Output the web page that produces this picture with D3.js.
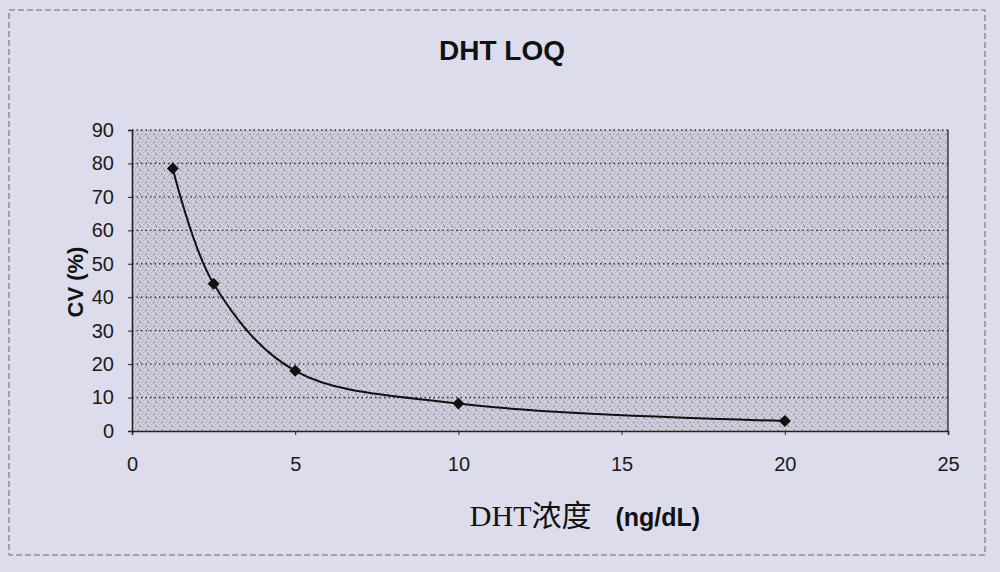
<!DOCTYPE html>
<html>
<head>
<meta charset="utf-8">
<script src="https://cdn.jsdelivr.net/npm/d3@7"></script>
<style>
  body { margin: 0; background: #dcdcec; }
  svg { display: block; }
</style>
</head>
<body>
<svg id="chart" width="1000" height="572"></svg>
<script>
// values
const concentrations = [1.25, 2.5, 5, 10, 20]
const cvValues = [78.5, 44, 18, 8.2, 3]
const xTicks = [0, 5, 10, 15, 20, 25]
const yTicks = [0, 10, 20, 30, 40, 50, 60, 70, 80, 90]

const svg = d3.select('#chart')
const margin = { left: 132, right: 52, top: 130, bottom: 141 }
const width = 1000 - margin.left - margin.right
const height = 572 - margin.top - margin.bottom

svg.append('rect')
  .attr('width', 1000).attr('height', 572)
  .attr('fill', '#dcdcec')

// stippled plot background (fixed dot layout in a small tile)
const stippleDots = [
  [0, 0, '#7e7e8c'], [3, 1, '#a0a0ae'], [5, 3, '#888896'], [1, 4, '#9a9aa8'],
  [4, 5, '#b0b0be'], [2, 2, '#b8b8c6'], [6, 0, '#a4a4b2'], [7, 6, '#8e8e9c'],
  [0, 7, '#acacba'], [6, 4, '#9c9caa'], [3, 6, '#a8a8b6']
]
const defs = svg.append('defs')
const pat = defs.append('pattern')
  .attr('id', 'stipple')
  .attr('width', 8).attr('height', 8)
  .attr('patternUnits', 'userSpaceOnUse')
pat.append('rect').attr('width', 8).attr('height', 8).attr('fill', '#d2d2e0')
pat.selectAll('rect.d')
  .data(stippleDots)
  .join('rect')
  .attr('class', 'd')
  .attr('x', d => d[0]).attr('y', d => d[1])
  .attr('width', 1.3).attr('height', 1.3)
  .attr('fill', d => d[2])

// dashed outer frame
svg.append('rect')
  .attr('x', 9).attr('y', 10)
  .attr('width', 976).attr('height', 545)
  .attr('fill', 'none')
  .attr('stroke', '#666')
  .attr('stroke-width', 1)
  .attr('stroke-dasharray', '6,3')

const x = d3.scaleLinear().domain([0, 25]).range([0, width])
const y = d3.scaleLinear().domain([0, 90]).range([height, 0])

const g = svg.append('g').attr('transform', `translate(${margin.left},${margin.top})`)

g.append('rect')
  .attr('width', width).attr('height', height)
  .attr('fill', 'url(#stipple)')

// dotted grid lines
g.append('g')
  .selectAll('line')
  .data(yTicks.slice(1))
  .join('line')
  .attr('x1', 0).attr('x2', width)
  .attr('y1', d => y(d)).attr('y2', d => y(d))
  .attr('stroke', '#333')
  .attr('stroke-width', 1.4)
  .attr('stroke-dasharray', '1.5,3')

// right border of plot
g.append('line')
  .attr('x1', width).attr('x2', width)
  .attr('y1', 0).attr('y2', height)
  .attr('stroke', '#333').attr('stroke-width', 1.4)

const xAxis = g.append('g')
  .attr('transform', `translate(0,${height})`)
  .call(d3.axisBottom(x).tickValues(xTicks).tickSize(4).tickPadding(22))
const yAxis = g.append('g')
  .call(d3.axisLeft(y).tickValues(yTicks).tickSize(4).tickPadding(14))

;[xAxis, yAxis].forEach(a => {
  a.select('.domain').attr('stroke', '#222').attr('stroke-width', 1.6)
  a.selectAll('.tick line').attr('stroke', '#222')
  a.selectAll('text')
    .attr('fill', '#1a1a1a')
    .style('font-family', 'Liberation Sans, Arial, sans-serif')
    .style('font-size', '20px')
})

const pts = concentrations.map((c, i) => [c, cvValues[i]])

g.append('path')
  .datum(pts)
  .attr('fill', 'none')
  .attr('stroke', '#111')
  .attr('stroke-width', 2)
  .attr('d', d3.line().x(d => x(d[0])).y(d => y(d[1])).curve(d3.curveCatmullRom.alpha(0.5)))

// square markers turned 45 degrees, like the Excel diamond
g.selectAll('.pt')
  .data(pts)
  .join('path')
  .attr('class', 'pt')
  .attr('transform', d => `translate(${x(d[0])},${y(d[1])}) rotate(45)`)
  .attr('d', d3.symbol().type(d3.symbolSquare).size(72))
  .attr('fill', '#111')

// title
svg.append('text')
  .attr('x', 502).attr('y', 60)
  .attr('text-anchor', 'middle')
  .style('font-family', 'Liberation Sans, Arial, sans-serif')
  .style('font-weight', 'bold')
  .style('font-size', '28px')
  .attr('fill', '#111')
  .text('DHT LOQ')

// y axis title
svg.append('text')
  .attr('transform', 'translate(83,282) rotate(-90)')
  .attr('text-anchor', 'middle')
  .style('font-family', 'Liberation Sans, Arial, sans-serif')
  .style('font-weight', 'bold')
  .style('font-size', '22px')
  .attr('fill', '#111')
  .text('CV (%)')

// x axis title
const xt = svg.append('text')
  .attr('x', 585).attr('y', 526)
  .attr('text-anchor', 'middle')
  .attr('fill', '#111')
xt.append('tspan')
  .style('font-family', 'Liberation Serif, Noto Sans CJK SC, serif')
  .style('font-size', '30px')
  .text('DHT浓度')
xt.append('tspan')
  .attr('dx', 24)
  .style('font-family', 'Liberation Sans, Arial, sans-serif')
  .style('font-weight', 'bold')
  .style('font-size', '25px')
  .text('(ng/dL)')
</script>
</body>
</html>
